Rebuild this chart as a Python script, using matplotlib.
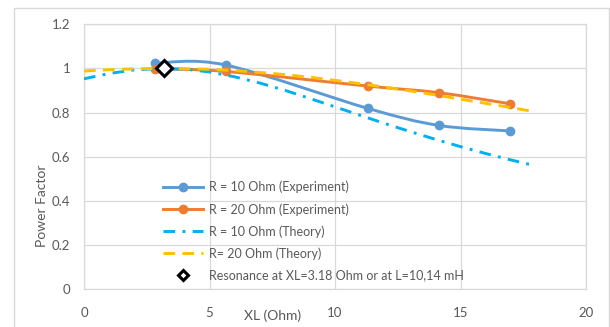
import numpy as np
import matplotlib.pyplot as plt
from matplotlib.path import Path
from matplotlib.patches import PathPatch, Rectangle
from matplotlib.lines import Line2D

plt.rcParams['font.family'] = ['Lato', 'DejaVu Sans']

# measured values, XL in Ohm
xl_exp = [2.83, 5.66, 11.31, 14.14, 16.97]
pf_r10_exp = [1.024, 1.015, 0.819, 0.742, 0.717]
pf_r20_exp = [0.998, 0.986, 0.920, 0.890, 0.840]

# theory curves
xl_theory = [0, 1, 2, 3, 4, 5, 6, 7, 8, 9, 10, 11, 12, 13, 14, 15, 16, 17, 18]
pf_r10_theory = [0.953, 0.977, 0.993, 1.000, 0.997, 0.984, 0.962, 0.934, 0.901, 0.864,
                 0.826, 0.788, 0.750, 0.714, 0.679, 0.646, 0.615, 0.586, 0.559]
pf_r20_theory = [0.988, 0.994, 0.998, 1.000, 0.999, 0.996, 0.990, 0.982, 0.972, 0.960,
                 0.946, 0.931, 0.915, 0.898, 0.880, 0.861, 0.842, 0.823, 0.803]

# resonance point
xl_res = [3.18]
pf_res = [1.0]

xticks = [0, 5, 10, 15, 20]
yticks = [0, 0.2, 0.4, 0.6, 0.8, 1.0, 1.2]
ytick_labels = ["0", "0.2", "0.4", "0.6", "0.8", "1", "1.2"]

blue = "#5B9BD5"
orange = "#ED7D31"
cyan = "#00B0F0"
gold = "#FFC000"
grey = "#595959"
grid = "#D9D9D9"


def smooth_path(x, y):
    # excel-style smoothed line as cubic bezier segments
    pts = np.column_stack([x, y])
    n = len(pts)
    verts = [pts[0]]
    codes = [Path.MOVETO]
    for i in range(n - 1):
        p0 = pts[max(i - 1, 0)]
        p1 = pts[i]
        p2 = pts[i + 1]
        p3 = pts[min(i + 2, n - 1)]
        verts += [p1 + (p2 - p0) / 6, p2 - (p3 - p1) / 6, p2]
        codes += [Path.CURVE4] * 3
    return Path(verts, codes)


fig = plt.figure(figsize=(6.1, 3.27), dpi=100)
ax = fig.add_axes([84 / 610, 1 - 289.4 / 327, 502 / 610, 265.2 / 327])

# outer chart frame
fig.patches.append(Rectangle((13.5 / 610, -0.05), (609 - 13.5) / 610, 1.05 - 7.7 / 327,
                             transform=fig.transFigure, fill=False,
                             edgecolor=grid, lw=1.0))

ax.add_patch(PathPatch(smooth_path(xl_exp, pf_r10_exp), fill=False,
                       edgecolor=blue, lw=2.1, capstyle="round", zorder=3))
ax.plot(xl_exp, pf_r10_exp, "o", color=blue, ms=6, zorder=3)
ax.add_patch(PathPatch(smooth_path(xl_exp, pf_r20_exp), fill=False,
                       edgecolor=orange, lw=2.1, capstyle="round", zorder=4))
ax.plot(xl_exp, pf_r20_exp, "o", color=orange, ms=6, zorder=4)

ax.plot(xl_theory, pf_r10_theory, color=cyan, lw=2.1,
        dashes=(4, 2.5, 1, 2.5), zorder=5)
ax.plot(xl_theory, pf_r20_theory, color=gold, lw=2.1,
        dashes=(4, 2.5), zorder=5)

ax.plot(xl_res, pf_res, "D", ms=8, mfc="white", mec="black", mew=2.2, zorder=6)

ax.set_xlim(0, 20)
ax.set_ylim(0, 1.2)
ax.set_xticks(xticks)
ax.set_yticks(yticks)
ax.set_yticklabels(ytick_labels)
ax.tick_params(length=0, colors=grey, labelsize=9.5)
ax.tick_params(axis="x", pad=13)
ax.tick_params(axis="y", pad=10)
ax.grid(True, color=grid, lw=0.9)
ax.set_axisbelow(True)
for s in ax.spines.values():
    s.set_color(grid)
    s.set_linewidth(0.9)

ax.set_xlabel("XL (Ohm)", color=grey, fontsize=10)
ax.xaxis.set_label_coords(0.375, -0.10)
ax.xaxis.label.set_va("center")
ax.set_ylabel("Power Factor", color=grey, fontsize=10)
ax.yaxis.set_label_coords(-0.084, 0.316)
ax.yaxis.label.set_va("center")

handles = [
    Line2D([], [], color=blue, lw=2.1, marker="o", ms=6),
    Line2D([], [], color=orange, lw=2.1, marker="o", ms=6),
    Line2D([], [], color=cyan, lw=2.1, dashes=(4, 2.5, 1, 2.5)),
    Line2D([], [], color=gold, lw=2.1, dashes=(4, 2.5)),
    Line2D([], [], ls="none", marker="D", ms=5, mfc="white", mec="black", mew=2.2),
]
labels = [
    "R = 10 Ohm (Experiment)",
    "R = 20 Ohm (Experiment)",
    "R = 10 Ohm (Theory)",
    "R= 20 Ohm (Theory)",
    "Resonance at XL=3.18 Ohm or at L=10,14 mH",
]
leg = ax.legend(handles, labels, loc="upper left", bbox_to_anchor=(0.157, 0.409),
                frameon=False, borderpad=0, borderaxespad=0, handlelength=3.2,
                handletextpad=0.48, labelspacing=0.76, fontsize=9)
for t in leg.get_texts():
    t.set_color(grey)

fig.savefig("out.png", dpi=100)
